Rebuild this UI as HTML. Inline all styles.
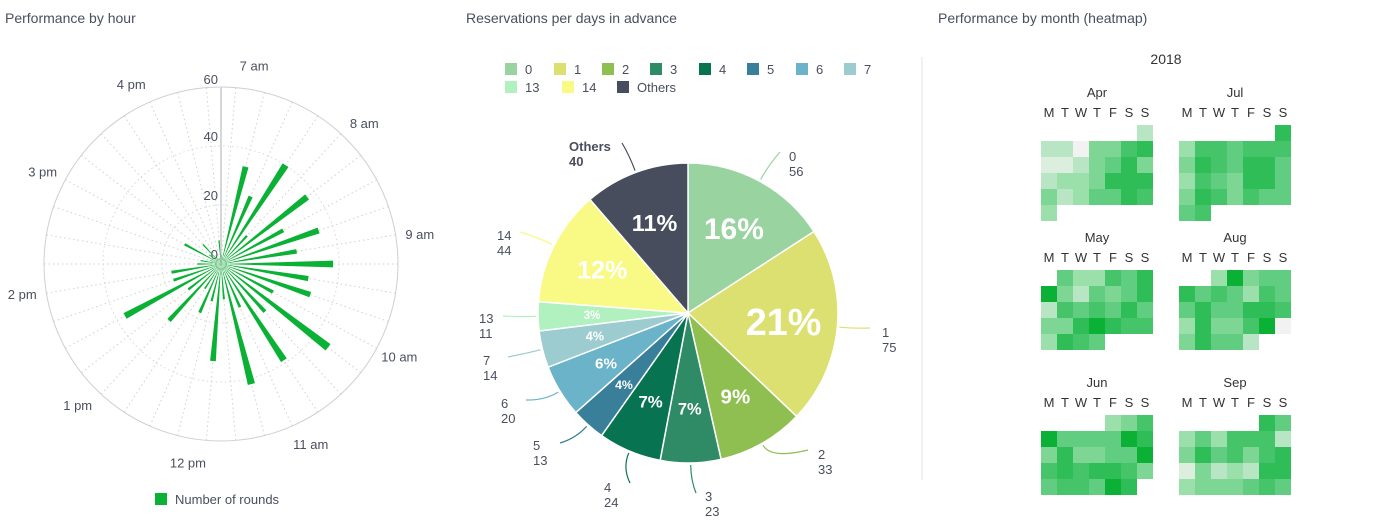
<!DOCTYPE html>
<html><head><meta charset="utf-8">
<style>
body{margin:0;background:#fff;width:1373px;height:522px;overflow:hidden;font-family:"Liberation Sans",sans-serif;color:#4a4f5e}
svg{position:absolute;left:0;top:0}
</style></head>
<body>
<svg id="s" width="1373" height="522" viewBox="0 0 1373 522">
<text x="5" y="23" font-size="14" fill="#4a4f5e">Performance by hour</text>
<text x="466" y="23" font-size="14" fill="#4a4f5e">Reservations per days in advance</text>
<text x="938" y="23" font-size="14" fill="#4a4f5e">Performance by month (heatmap)</text>
<line x1="922" y1="57" x2="922" y2="480" stroke="#e3e3e3"/>
<text x="1166" y="64" font-size="14" text-anchor="middle" fill="#333">2018</text>
<g id="polar"></g><g id="pie"></g><g id="heat"></g>
<rect x="155" y="493" width="12" height="12" fill="#0ab135"/>
<text x="175" y="504" font-size="13" fill="#4a4f5e">Number of rounds</text>
</svg>
<script>
const NS="http://www.w3.org/2000/svg";
function mk(p,t,a){const e=document.createElementNS(NS,t);for(const k in a)e.setAttribute(k,a[k]);p.appendChild(e);return e;}
// ---------- polar data ----------
const barValues=[3,34,25,40,13,37,24,35,26,38,30,32,20,46,22,39,16,42,12,33,13,18,10,26,14,37,17,17,8,7,4,14,5,9,3,2,2,8];
const radialTicks=[0,20,40,60];
const hourLabels=["7 am","8 am","9 am","10 am","11 am","12 pm","1 pm","2 pm","3 pm","4 pm"];
const P=document.getElementById('polar');
const cx=221,cy=264,R=177,maxV=60;
const rs=v=>v/maxV*R;
const pt=(a,r)=>[cx+r*Math.sin(a*Math.PI/180),cy-r*Math.cos(a*Math.PI/180)];
const step=360/barValues.length;
for(let k=0;k<barValues.length;k++){const [x,y]=pt(k*step+step/2,R);
 const l=mk(P,'line',{x1:cx,y1:cy,x2:x,y2:y,stroke:'#d0d0d0','stroke-dasharray':'1.5,3'});
 }
radialTicks.forEach(t=>{if(t===0)return;const c=mk(P,'circle',{cx:cx,cy:cy,r:rs(t),fill:'none',stroke:t===maxV?'#cfcfd4':'#d8d8d8','stroke-dasharray':t===maxV?'':'1.5,3'});
 });
const ax=mk(P,'line',{x1:cx,y1:cy,x2:cx,y2:cy-R,stroke:'#d5d5da','stroke-width':2});

radialTicks.forEach(t=>{const tx=mk(P,'text',{x:cx-3,y:cy-rs(t)+(t===maxV?-3:-5),'font-size':13,'text-anchor':'end',fill:'#4a4f5e'});tx.textContent=t;
 });
barValues.forEach((v,k)=>{const a=k*step+step/2,w=1.7;const r=rs(v);
 const [x1,y1]=pt(a-w,r),[x2,y2]=pt(a+w,r);
 const p=mk(P,'path',{d:`M${cx},${cy}L${x1},${y1}L${x2},${y2}Z`,fill:'#0ab135'});
 });
hourLabels.forEach((h,i)=>{const a=step+36*i;const [x,y]=pt(a,R+24);
 const t=mk(P,'text',{x:x,y:y+5,'font-size':13,'text-anchor':'middle',fill:'#4a4f5e'});t.textContent=h;
 });
// ---------- pie data ----------
const pieCats=["0","1","2","3","4","5","6","7","13","14","Others"];
const pieValues=[56,75,33,23,24,13,20,14,11,44,40];
const pieColors=["#99d3a0","#dbe070","#8fbf50","#2e8b65","#077350","#3a7f9a","#6ab3c8","#9ccbd0","#b1f1c0","#f8fa85","#474d5c"];
const labelPos=[[789,161],[882,337],[818,459],[705,501],[604,492],[533,450],[501,408],[483,365],[479,323],[497,240],[569,151]];
const leaderEnd=[[780,152],[870,328],[808,450],[696,493],[630,483],[560,443],[526,400],[508,357],[503,316],[520,232],[622,143]];
const legendPos=[[505,63],[554,63],[602,63],[650,63],[699,63],[747,63],[796,63],[844,63],[505,81],[562,81],[617,81]];
const Q=document.getElementById('pie');
const pcx=688,pcy=313,PR=150;
const tot=pieValues.reduce((a,b)=>a+b,0);
const pp=(a,r)=>[pcx+r*Math.sin(a),pcy-r*Math.cos(a)];
let acc=0;
pieValues.forEach((v,i)=>{const a0=acc/tot*2*Math.PI;acc+=v;const a1=acc/tot*2*Math.PI;
 const [x0,y0]=pp(a0,PR),[x1,y1]=pp(a1,PR);
 const s=mk(Q,'path',{d:`M${pcx},${pcy}L${x0},${y0}A${PR},${PR} 0 ${a1-a0>Math.PI?1:0} 1 ${x1},${y1}Z`,fill:pieColors[i],stroke:'#fff','stroke-width':1.5});
 
 const am=(a0+a1)/2;const fs=7+v*0.41;const [tx,ty]=pp(am,PR*0.64);
 const t=mk(Q,'text',{x:tx,y:ty+fs*0.35,'font-size':fs.toFixed(1),'font-weight':'bold','text-anchor':'middle',fill:'#fff'});
 t.textContent=Math.round(v/tot*100)+'%';
 const [ex,ey]=pp(am,PR+2),[mx,my]=pp(am,PR+18);const [lx,ly]=leaderEnd[i];
 const l=mk(Q,'path',{d:`M${ex},${ey}Q${mx},${my} ${lx},${ly}`,fill:'none',stroke:pieColors[i],'stroke-width':1.2});
 
 const [px,py]=labelPos[i];const bold=pieCats[i]==="Others";
 const t1=mk(Q,'text',{x:px,y:py,'font-size':13,fill:'#4a4f5e','font-weight':bold?'bold':'normal'});t1.textContent=pieCats[i];
 
 const t2=mk(Q,'text',{x:px,y:py+15,'font-size':13,fill:'#4a4f5e','font-weight':bold?'bold':'normal'});t2.textContent=v;
 
 const [gx,gy]=legendPos[i];
 const r=mk(Q,'rect',{x:gx,y:gy,width:12,height:12,fill:pieColors[i]});
 const gt=mk(Q,'text',{x:gx+20,y:gy+11,'font-size':13,fill:'#4a4f5e'});gt.textContent=pieCats[i];
 });
// ---------- heatmap data ----------
const monthNames=["Apr","Jul","May","Aug","Jun","Sep"];
const weekdays=["M","T","W","T","F","S","S"];
const heatLevels=["#f2f2f2","#dcefdf","#b8e5c4","#9bdfaa","#7ed695","#61cd80","#46c46a","#2ebd57","#0ab135"];
const mApr=[[-1,-1,-1,-1,-1,-1,2],[2,2,0,4,4,6,7],[1,1,2,4,5,7,4],[2,3,3,4,7,7,7],[4,2,3,5,5,7,6],[3]];
const mJul=[[-1,-1,-1,-1,-1,-1,7],[3,6,6,5,6,6,6],[4,7,6,5,7,7,5],[3,6,5,4,7,7,5],[4,7,6,4,6,5,5],[5,6]];
const mMay=[[-1,5,3,3,6,5,7],[8,4,2,5,4,5,7],[2,6,5,6,5,7,5],[4,4,7,8,7,6,6],[3,7,6,5]];
const mAug=[[-1,-1,3,8,4,5,5],[7,5,6,5,3,6,5],[5,7,5,5,7,7,6],[3,7,4,4,6,8,0],[4,7,5,5,2]];
const mJun=[[-1,-1,-1,-1,3,4,6],[8,5,5,5,5,8,7],[4,7,4,4,5,5,8],[6,7,6,7,7,6,4],[5,6,6,5,8,7]];
const mSep=[[-1,-1,-1,-1,-1,7,5],[3,5,3,6,6,6,2],[4,7,5,6,4,6,7],[1,4,2,3,2,7,7],[3,4,4,4,5,6,5]];
const months=[mApr,mJul,mMay,mAug,mJun,mSep];
const H=document.getElementById('heat');
const colX=[1041,1179],rowY=[125,270,415],cs=16;
months.forEach((m,mi)=>{const ox=colX[mi%2],oy=rowY[Math.floor(mi/2)];
 const t=mk(H,'text',{x:ox+56,y:oy-28,'font-size':13,'text-anchor':'middle',fill:'#333'});t.textContent=monthNames[mi];
 
 weekdays.forEach((d,di)=>{const w=mk(H,'text',{x:ox+di*cs+8,y:oy-8,'font-size':13,'text-anchor':'middle',fill:'#333'});w.textContent=d;
  });
 m.forEach((row,ri)=>row.forEach((v,di)=>{if(v<0)return;
  const c=mk(H,'rect',{x:ox+di*cs,y:oy+ri*cs,width:cs,height:cs,fill:heatLevels[v]});
  }));});
</script>
</body></html>
